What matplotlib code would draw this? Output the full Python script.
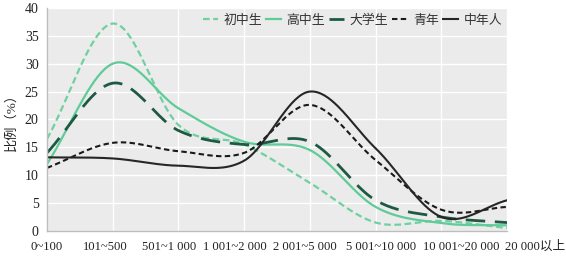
import numpy as np
import matplotlib
matplotlib.use('Agg')
import matplotlib.pyplot as plt
from matplotlib.transforms import blended_transform_factory

plt.rcParams['font.family'] = ['Liberation Serif', 'Noto Sans CJK SC', 'DejaVu Sans']

categories = ['0~100', '101~500', '501~1 000', '1 001~2 000', '2 001~5 000',
              '5 001~10 000', '10 001~20 000', '20 000以上']
junior = [16.5, 37.2, 19.0, 15.5, 8.6, 1.5, 1.8, 0.5]       # 初中生
senior = [12.0, 30.0, 22.0, 16.0, 14.5, 4.3, 1.4, 1.0]      # 高中生
college = [14.0, 26.5, 18.0, 15.5, 16.0, 5.5, 2.5, 1.5]     # 大学生
youth = [11.3, 15.8, 14.3, 14.0, 22.6, 12.7, 3.8, 4.3]      # 青年
middle = [13.2, 13.0, 11.7, 12.6, 25.0, 14.8, 2.5, 5.5]     # 中年人
names = ['初中生', '高中生', '大学生', '青年', '中年人']


def smooth(y, n=40):
    # catmull-rom through the points, like the "smoothed line" option
    y = np.asarray(y, float)
    p = np.concatenate([[2 * y[0] - y[1]], y, [2 * y[-1] - y[-2]]])
    xs, ys = [], []
    for i in range(len(y) - 1):
        t = np.linspace(0, 1, n, endpoint=False)
        p0, p1, p2, p3 = p[i], p[i + 1], p[i + 2], p[i + 3]
        v = 0.5 * (2 * p1 + (-p0 + p2) * t + (2 * p0 - 5 * p1 + 4 * p2 - p3) * t ** 2
                   + (-p0 + 3 * p1 - 3 * p2 + p3) * t ** 3)
        xs.append(i + t)
        ys.append(v)
    xs.append([len(y) - 1])
    ys.append([y[-1]])
    return np.concatenate(xs), np.concatenate(ys)


fig = plt.figure(figsize=(5.66, 2.56), dpi=100)
ax = fig.add_axes([0.083, 0.098, 0.813, 0.871])
ax.set_facecolor('#ebebeb')

styles = [
    dict(color='#6fd0a0', lw=1.6, dashes=(3, 1.6)),
    dict(color='#5fcb98', lw=1.6),
    dict(color='#1e5a43', lw=2.0, dashes=(7, 3.5)),
    dict(color='#1a1a1a', lw=1.5, dashes=(2.6, 1.6)),
    dict(color='#262626', lw=1.5),
]
for vals, name, st in zip([junior, senior, college, youth, middle], names, styles):
    xs, ys = smooth(vals)
    ax.plot(xs, ys, label=name, **st)

ax.set_xlim(0, 7)
ax.set_ylim(0, 40)
ax.set_yticks(range(0, 41, 5))
ax.set_xticks(range(8))
ax.set_xticklabels([])
ax.tick_params(axis='x', length=0)
ax.tick_params(axis='y', length=0, labelsize=10, colors='#222222', pad=6)
ax.grid(True, color='white', lw=1)
ax.set_axisbelow(True)
for s in ['top', 'right']:
    ax.spines[s].set_visible(False)
for s in ['left', 'bottom']:
    ax.spines[s].set_color('#bdbdbd')
    ax.spines[s].set_linewidth(1)

# category labels sit a little off the grid lines, as in the original
lab_pos = [-0.01, 0.88, 1.86, 2.86, 3.93, 5.08, 6.30, 7.43]
trans = blended_transform_factory(ax.transData, ax.transAxes)
for xp, lab in zip(lab_pos, categories):
    ax.text(xp, -0.072, lab, transform=trans, ha='center', va='center',
            fontsize=9.1, color='#222222', clip_on=False)

ax.set_ylabel('比例（%）', fontsize=9.5, color='#222222', labelpad=5)

leg = ax.legend(loc='upper right', ncol=5, frameon=False, fontsize=9.3,
                handlelength=1.15, handletextpad=0.45, columnspacing=0.3,
                borderaxespad=0.0, bbox_to_anchor=(1.0, 0.995))
for t in leg.get_texts():
    t.set_color('#333333')

fig.savefig('out.png', dpi=100)
